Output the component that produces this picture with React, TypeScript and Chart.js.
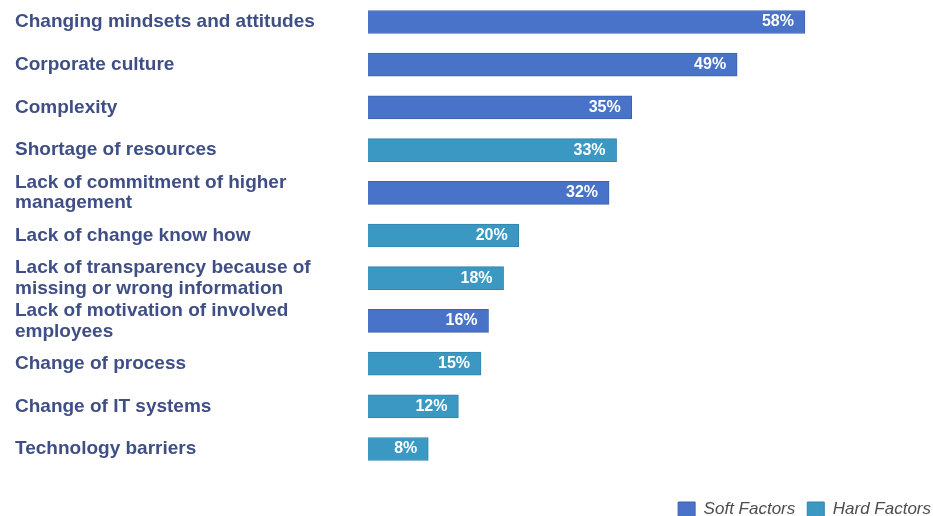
import React, { useEffect, useRef } from 'react';
import { Chart, registerables } from 'chart.js';

Chart.register(...registerables);

const categories: (string | string[])[] = [
  'Changing mindsets and attitudes',
  'Corporate culture',
  'Complexity',
  'Shortage of resources',
  ['Lack of commitment of higher', 'management'],
  'Lack of change know how',
  ['Lack of transparency because of', 'missing or wrong information'],
  ['Lack of motivation of involved', 'employees'],
  'Change of process',
  'Change of IT systems',
  'Technology barriers',
];
const values = [58, 49, 35, 33, 32, 20, 18, 16, 15, 12, 8];
const factorTypes = ['soft', 'soft', 'soft', 'hard', 'soft', 'hard', 'hard', 'soft', 'hard', 'hard', 'hard'];
const softLabel = 'Soft Factors';
const hardLabel = 'Hard Factors';

const SOFT = '#4873C8';
const HARD = '#3A98C3';
const FONT = '"Liberation Sans", Arial, Helvetica, sans-serif';

const valueLabels = {
  id: 'valueLabels',
  afterDatasetsDraw(chart: any) {
    const ctx = chart.ctx;
    ctx.save();
    ctx.font = `bold 16px ${FONT}`;
    ctx.fillStyle = '#ffffff';
    ctx.textAlign = 'right';
    ctx.textBaseline = 'middle';
    chart.data.datasets.forEach((ds: any, di: number) => {
      const meta = chart.getDatasetMeta(di);
      meta.data.forEach((el: any, i: number) => {
        const v = ds.data[i];
        if (v === null || v === undefined) return;
        ctx.fillText(`${v}%`, el.x - 11, el.y);
      });
    });
    ctx.restore();
  },
};

export default function App() {
  const ref = useRef<HTMLCanvasElement | null>(null);

  useEffect(() => {
    if (!ref.current) return;
    Chart.defaults.font.family = FONT;
    const softData = values.map((v, i) => (factorTypes[i] === 'soft' ? v : null));
    const hardData = values.map((v, i) => (factorTypes[i] === 'hard' ? v : null));
    const chart = new Chart(ref.current, {
      type: 'bar',
      data: {
        labels: categories as any,
        datasets: [
          {
            label: softLabel,
            data: softData as any,
            backgroundColor: SOFT,
            borderColor: '#3D62AE',
            borderWidth: 1,
            barThickness: 23,
            grouped: false,
            clip: false as any,
          },
          {
            label: hardLabel,
            data: hardData as any,
            backgroundColor: HARD,
            borderColor: '#3385AB',
            borderWidth: 1,
            barThickness: 23,
            grouped: false,
            clip: false as any,
          },
        ],
      },
      options: {
        indexAxis: 'y',
        responsive: true,
        maintainAspectRatio: false,
        animation: false,
        layout: { padding: { left: 15, top: 22, right: -10, bottom: -12 } },
        scales: {
          x: {
            type: 'linear',
            min: 0,
            max: 75,
            display: true,
            ticks: { display: false },
            grid: { display: false },
            border: { display: false },
            afterFit: (s: any) => {
              s.height = 40;
            },
          },
          y: {
            type: 'category',
            offset: false,
            grid: { display: false },
            border: { display: false },
            ticks: {
              crossAlign: 'far',
              autoSkip: false,
              padding: 0,
              color: '#3F4F86',
              font: { size: 19, weight: 'bold', lineHeight: 1.1 },
            },
            afterFit: (s: any) => {
              s.width = 353;
            },
          },
        },
        plugins: {
          legend: {
            position: 'bottom',
            align: 'end',
            labels: {
              boxWidth: 17,
              boxHeight: 15,
              padding: 12,
              color: '#4d4d4d',
              font: { size: 17, style: 'italic' },
            },
          },
          tooltip: { enabled: false },
        },
      },
      plugins: [valueLabels],
    });
    return () => chart.destroy();
  }, []);

  return (
    <div style={{ position: 'absolute', left: 0, top: 0, width: 933, height: 516, background: '#fff' }}>
      <canvas ref={ref} />
    </div>
  );
}
